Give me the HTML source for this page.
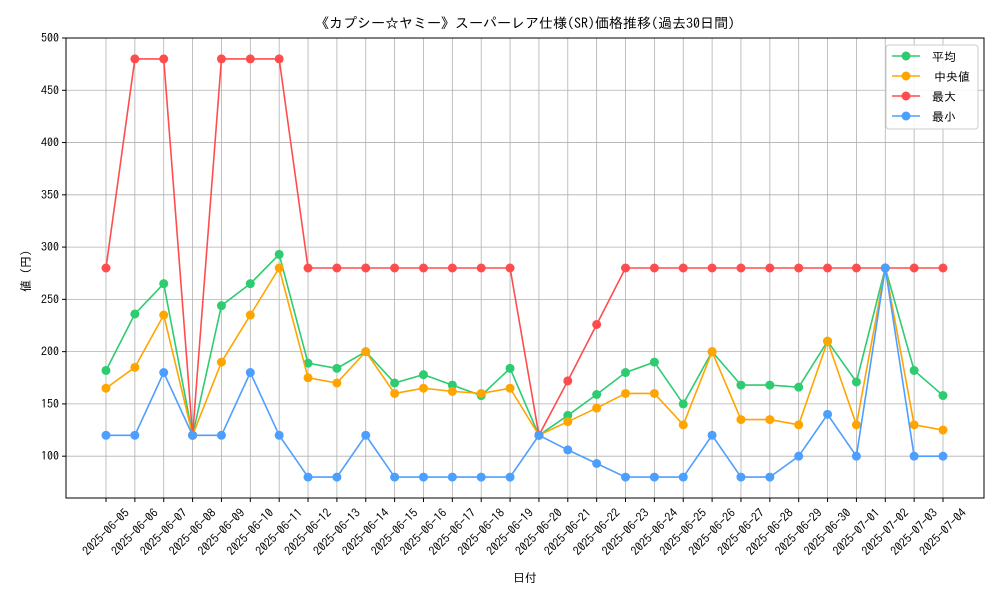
<!DOCTYPE html>
<html><head><meta charset="utf-8"><style>
body{margin:0;background:#fff;}
svg text{font-family:"IPAGothic","Noto Sans CJK JP",sans-serif;fill:#000;}
</style></head><body>
<svg id="c" width="1000" height="600" xmlns="http://www.w3.org/2000/svg"></svg>
<script>
const dates=["2025-06-05","2025-06-06","2025-06-07","2025-06-08","2025-06-09","2025-06-10","2025-06-11","2025-06-12","2025-06-13","2025-06-14","2025-06-15","2025-06-16","2025-06-17","2025-06-18","2025-06-19","2025-06-20","2025-06-21","2025-06-22","2025-06-23","2025-06-24","2025-06-25","2025-06-26","2025-06-27","2025-06-28","2025-06-29","2025-06-30","2025-07-01","2025-07-02","2025-07-03","2025-07-04"];
const avgVals=[182,236,265,120,244,265,293,189,184,200,170,178,168,158,184,120,139,159,180,190,150,200,168,168,166,210,171,280,182,158];
const medVals=[165,185,235,120,190,235,280,175,170,200,160,165,162,160,165,120,133,146,160,160,130,200,135,135,130,210,130,280,130,125];
const maxVals=[280,480,480,120,480,480,480,280,280,280,280,280,280,280,280,120,172,226,280,280,280,280,280,280,280,280,280,280,280,280];
const minVals=[120,120,180,120,120,180,120,80,80,120,80,80,80,80,80,120,106,93,80,80,80,120,80,80,100,140,100,280,100,100];
const yTicks=[100,150,200,250,300,350,400,450,500];
const L=66,R=984,T=38,B=498,yMin=60,yMax=500;
const x0=106,dx=(943-106)/29;
const xs=i=>x0+i*dx;
const ys=v=>B-(v-yMin)/(yMax-yMin)*(B-T);
const svg=document.getElementById('c');
const NS="http://www.w3.org/2000/svg";
function mk(t,a,p){const e=document.createElementNS(NS,t);for(const k in a)e.setAttribute(k,a[k]);(p||svg).appendChild(e);return e;}
dates.forEach((d,i)=>{const g=mk('line',{x1:xs(i),x2:xs(i),y1:T,y2:B,stroke:'#b0b0b0','stroke-width':0.8});

});
yTicks.forEach(v=>{const g=mk('line',{x1:L,x2:R,y1:ys(v),y2:ys(v),stroke:'#b0b0b0','stroke-width':0.8});


const tk=mk('line',{x1:L-4,x2:L,y1:ys(v),y2:ys(v),stroke:'#000'});


const t=mk('text',{x:L-7,y:ys(v)+4,'text-anchor':'end','font-size':12});t.textContent=v;

});
dates.forEach((d,i)=>{const tk=mk('line',{x1:xs(i),x2:xs(i),y1:B,y2:B+4,stroke:'#000'});


const cx=xs(i),cy=B+34;
const t=mk('text',{x:cx,y:cy,'text-anchor':'middle','dominant-baseline':'central','font-size':12,transform:`rotate(-45 ${cx} ${cy})`});t.textContent=d;

});
const fr=mk('rect',{x:L,y:T,width:R-L,height:B-T,fill:'none',stroke:'#000','stroke-width':1});


const series=[["avg",avgVals,"#2ecc71"],["median",medVals,"#ffa500"],["max",maxVals,"#ff4d4d"],["min",minVals,"#4d9fff"]];
series.forEach(([n,vals,c])=>{const g=mk('g',{});


const p=mk('polyline',{points:vals.map((v,i)=>xs(i)+','+ys(v)).join(' '),fill:'none',stroke:c,'stroke-width':1.6},g);


vals.forEach((v,i)=>{const m=mk('circle',{cx:xs(i),cy:ys(v),r:4.5,fill:c},g);

});});
</script>
<svg width="1000" height="600" style="position:absolute;left:0;top:0" xmlns="http://www.w3.org/2000/svg">
<text x="525" y="28" text-anchor="middle" font-size="14">《カプシー☆ヤミー》スーパーレア仕様(SR)価格推移(過去30日間)</text>
<text x="525" y="582" text-anchor="middle" font-size="12">日付</text>
<text x="30" y="268" text-anchor="middle" font-size="12" transform="rotate(-90 30 268)">値（円）</text>
<g>
<rect x="886" y="45" width="92" height="84" rx="3" fill="#fff" fill-opacity="0.85" stroke="#ccc"/>
<g><line x1="892" x2="920" y1="56" y2="56" stroke="#2ecc71" stroke-width="1.6"/><circle cx="906" cy="56" r="4.5" fill="#2ecc71"/><text x="932" y="61" font-size="12">平均</text></g>
<g><line x1="892" x2="920" y1="76" y2="76" stroke="#ffa500" stroke-width="1.6"/><circle cx="906" cy="76" r="4.5" fill="#ffa500"/><text x="934" y="81" font-size="12">中央値</text></g>
<g><line x1="892" x2="920" y1="96" y2="96" stroke="#ff4d4d" stroke-width="1.6"/><circle cx="906" cy="96" r="4.5" fill="#ff4d4d"/><text x="932" y="101" font-size="12">最大</text></g>
<g><line x1="892" x2="920" y1="116" y2="116" stroke="#4d9fff" stroke-width="1.6"/><circle cx="906" cy="116" r="4.5" fill="#4d9fff"/><text x="932" y="121" font-size="12">最小</text></g>
</g>
</svg>
</body></html>
